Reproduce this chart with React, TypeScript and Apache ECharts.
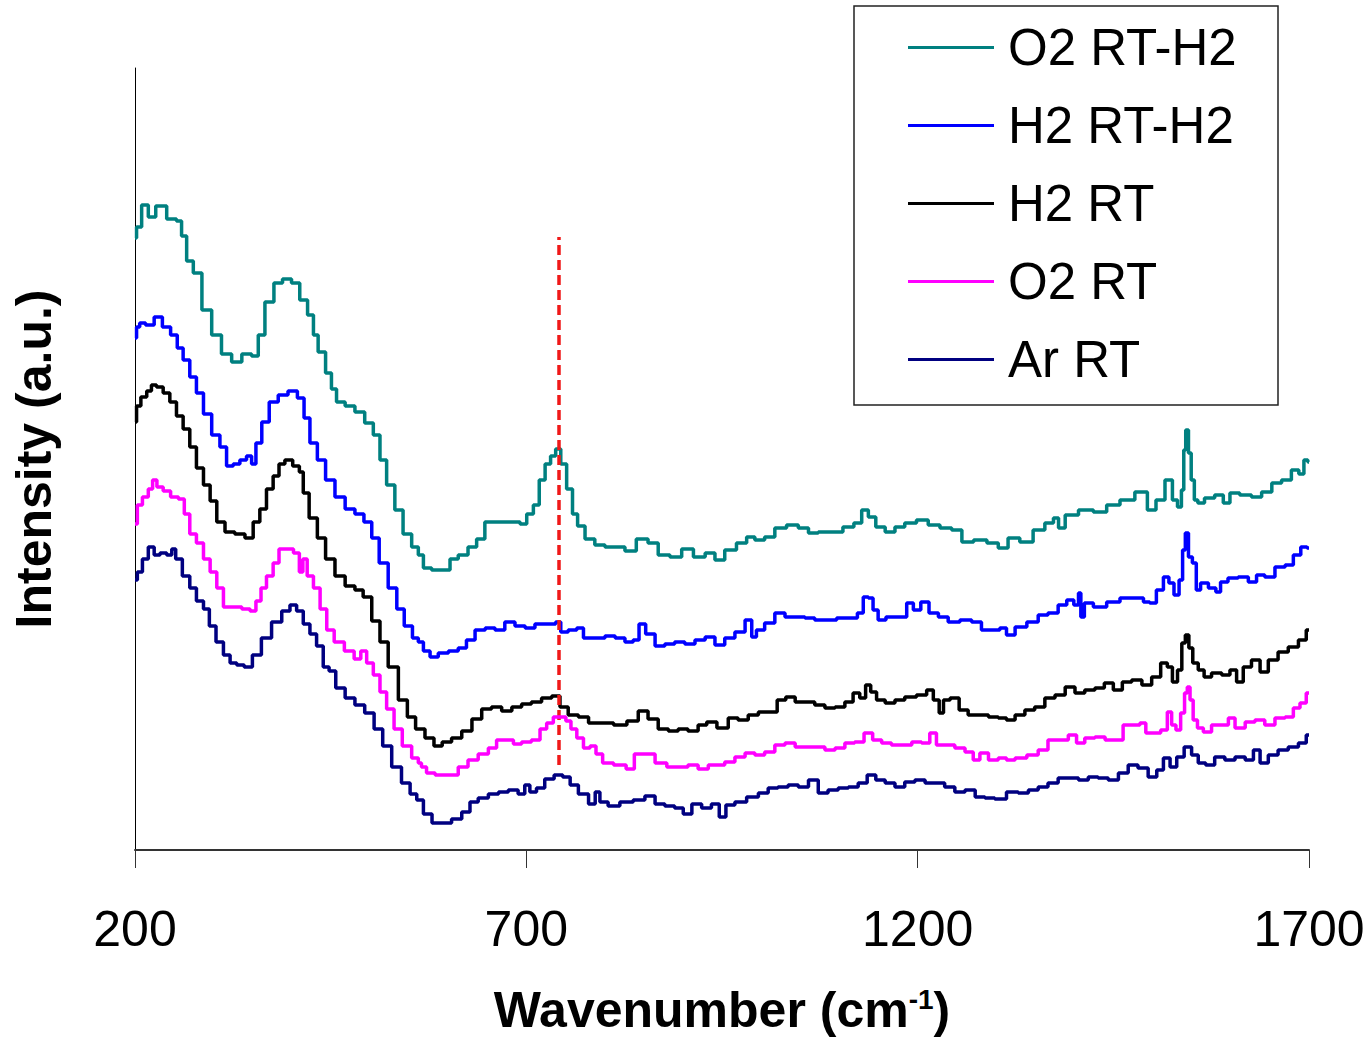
import React, { useEffect, useRef } from "react";
import * as echarts from "echarts";

const seriesNames = ["O2 RT-H2", "H2 RT-H2", "H2 RT", "O2 RT", "Ar RT"];
const seriesColors = ["#008080", "#0000FF", "#000000", "#FF00FF", "#000080"];
const xTicks = [200, 700, 1200, 1700];

// [wavenumber (cm-1), intensity (a.u.)]
const o2RtH2 = [[200,612],[204,623],[213,645],[221,633],[232,644],[249,631],[257,629],[262,614],[270,589],[279,577],[292,540],[304,515],[317,496],[330,488],[343,496],[355,494],[360,515],[372,548],[383,567],[394,571],[406,567],[415,550],[426,535],[430,515],[438,498],[449,477],[453,461],[462,448],[475,444],[487,438],[500,427],[509,415],[517,390],[526,365],[538,340],[547,316],[560,303],[564,295],[573,282],[585,280],[598,280],[607,291],[619,295],[632,303],[641,311],[653,328],[670,328],[688,328],[696,326],[705,336],[713,345],[720,370],[728,386],[734,394],[741,401],[747,386],[756,361],[762,336],[769,324],[781,311],[794,305],[807,303],[820,303],[832,299],[849,311],[862,307],[875,295],[892,293],[905,301],[922,293],[935,297],[947,290],[960,300],[977,307],[986,313],[998,310],[1011,313],[1024,322],[1041,325],[1054,322],[1067,317],[1079,318],[1096,318],[1113,323],[1124,327],[1133,340],[1141,333],[1152,323],[1165,318],[1177,323],[1190,327],[1207,330],[1220,325],[1237,322],[1250,320],[1263,308],[1280,310],[1297,307],[1309,302],[1322,312],[1339,308],[1356,320],[1369,327],[1378,332],[1382,322],[1395,335],[1416,340],[1433,338],[1450,345],[1467,350],[1488,358],[1499,340],[1510,350],[1522,370],[1529,350],[1535,343],[1539,360],[1541,400],[1544,420],[1548,397],[1551,370],[1556,350],[1560,347],[1573,352],[1586,355],[1595,347],[1603,357],[1620,355],[1633,353],[1646,358],[1659,367],[1671,370],[1684,380],[1690,376],[1697,390],[1700,388]];

const h2RtH2 = [[200,512],[204,523],[208,527],[219,525],[230,533],[240,523],[251,515],[257,502],[266,490],[274,473],[283,457],[292,436],[304,415],[313,403],[321,384],[330,386],[338,390],[347,394],[351,386],[358,407],[366,428],[377,448],[389,455],[402,459],[413,452],[419,432],[428,407],[438,390],[449,370],[462,353],[475,341],[487,336],[498,328],[507,312],[517,287],[530,262],[539,241],[549,224],[560,212],[564,208],[573,199],[581,193],[594,197],[607,199],[619,202],[628,210],[641,220],[654,222],[666,220],[679,228],[692,224],[705,222],[717,226],[734,226],[741,228],[747,218],[760,220],[769,222],[777,212],[794,212],[807,214],[820,212],[832,208],[841,210],[847,226],[858,216],[871,204],[883,206],[896,208],[909,206],[922,210],[935,213],[947,205],[960,212],[973,218],[986,230],[990,213],[998,220],[1011,227],[1024,237],[1037,233],[1050,233],[1062,232],[1075,230],[1088,230],[1105,232],[1118,232],[1128,237],[1133,253],[1141,252],[1145,240],[1154,230],[1165,233],[1182,233],[1190,247],[1199,240],[1209,248],[1220,237],[1233,233],[1245,228],[1263,230],[1275,228],[1288,220],[1301,220],[1309,222],[1318,215],[1331,223],[1348,228],[1360,235],[1373,237],[1386,245],[1395,250],[1404,245],[1407,257],[1410,233],[1416,247],[1433,243],[1450,248],[1467,252],[1484,252],[1493,248],[1500,247],[1510,260],[1518,273],[1524,267],[1531,255],[1537,270],[1540,300],[1544,317],[1548,293],[1554,287],[1558,260],[1565,267],[1578,262],[1584,258],[1590,268],[1603,272],[1616,273],[1629,268],[1637,275],[1650,273],[1663,283],[1676,285],[1684,295],[1695,303],[1700,302]];

const h2Rt = [[200,428],[204,444],[211,453],[219,459],[223,465],[232,463],[240,457],[249,448],[257,434],[266,421],[274,403],[283,382],[292,365],[300,349],[309,328],[321,318],[334,316],[347,312],[355,328],[364,341],[372,361],[381,374],[387,386],[396,390],[407,384],[413,378],[417,357],[428,332],[438,312],[449,291],[462,274],[475,264],[487,260],[496,253],[509,229],[517,208],[530,183],[543,150],[553,133],[564,121],[577,112],[587,104],[598,108],[611,112],[624,119],[637,131],[649,141],[662,143],[675,139],[688,143],[700,146],[713,148],[726,152],[739,154],[747,143],[760,135],[773,133],[786,127],[803,127],[820,125],[837,129],[849,139],[862,131],[875,121],[888,119],[900,121],[913,119],[926,125],[935,128],[952,122],[964,132],[977,130],[990,135],[1003,138],[1015,138],[1026,150],[1037,153],[1050,148],[1062,148],[1075,145],[1088,142],[1101,143],[1113,148],[1122,157],[1130,152],[1137,165],[1143,158],[1152,150],[1165,147],[1177,150],[1190,153],[1207,155],[1216,160],[1224,150],[1231,137],[1235,150],[1248,152],[1258,140],[1271,135],[1284,135],[1297,133],[1309,132],[1318,130],[1331,135],[1343,140],[1356,143],[1369,152],[1382,155],[1395,163],[1407,157],[1420,160],[1433,162],[1444,167],[1456,160],[1467,168],[1480,170],[1493,165],[1505,173],[1516,187],[1522,183],[1529,168],[1535,180],[1540,207],[1544,215],[1549,202],[1554,187],[1563,180],[1569,173],[1582,177],[1595,175],[1603,180],[1612,168],[1620,183],[1633,190],[1642,178],[1654,190],[1667,198],[1680,203],[1693,210],[1700,220]];

const o2Rt = [[200,326],[206,345],[213,353],[221,361],[224,370],[232,363],[240,359],[251,353],[260,351],[266,336],[274,316],[283,307],[292,291],[300,278],[309,262],[317,243],[330,243],[343,241],[351,239],[358,249],[364,262],[372,274],[381,287],[387,301],[398,301],[407,297],[413,278],[416,291],[424,274],[432,262],[441,241],[449,220],[460,208],[475,199],[485,191],[492,199],[500,187],[509,175],[517,158],[526,141],[536,121],[547,104],[560,92],[564,87],[568,83],[577,77],[590,75],[607,75],[619,83],[632,90],[645,96],[658,102],[666,110],[679,110],[688,106],[700,108],[713,110],[722,121],[730,127],[739,133],[747,133],[754,129],[760,121],[769,112],[777,102],[786,104],[792,96],[803,87],[820,85],[835,81],[841,96],[858,96],[871,87],[888,83],[900,83],[913,85],[926,81],[939,85],[947,85],[960,88],[973,93],[986,97],[998,95],[1011,98],[1024,105],[1037,107],[1050,103],[1062,103],[1075,103],[1088,100],[1101,102],[1113,107],[1126,108],[1137,117],[1148,110],[1160,107],[1173,105],[1186,105],[1199,108],[1211,107],[1220,117],[1228,105],[1241,105],[1254,102],[1267,98],[1275,90],[1284,97],[1297,90],[1309,92],[1318,90],[1331,92],[1348,95],[1360,100],[1373,110],[1386,110],[1399,115],[1407,107],[1420,112],[1433,113],[1446,110],[1458,110],[1467,125],[1480,125],[1488,127],[1495,117],[1505,117],[1516,120],[1522,138],[1527,125],[1533,120],[1539,137],[1543,157],[1546,163],[1550,150],[1554,130],[1561,122],[1569,118],[1582,125],[1595,125],[1599,132],[1612,122],[1625,128],[1637,130],[1650,125],[1663,132],[1676,133],[1684,142],[1693,147],[1700,157]];

const arRt = [[200,270],[206,278],[213,291],[221,303],[228,295],[236,297],[245,295],[249,301],[255,291],[266,274],[274,262],[283,249],[292,241],[298,224],[309,208],[317,195],[326,187],[334,185],[345,183],[355,195],[368,212],[381,228],[394,239],[402,245],[411,239],[419,226],[428,216],[436,204],[445,183],[451,179],[462,162],[475,152],[487,145],[500,137],[511,121],[522,104],[534,83],[547,67],[556,56],[564,50],[573,36],[586,27],[598,27],[611,31],[624,38],[632,48],[645,52],[658,56],[671,58],[683,60],[696,56],[700,65],[709,58],[717,62],[730,71],[741,75],[752,73],[760,65],[773,56],[786,46],[790,58],[798,48],[811,44],[828,48],[845,50],[858,54],[871,46],[883,44],[896,42],[905,36],[918,46],[930,42],[943,46],[950,33],[960,45],[973,48],[990,53],[1003,57],[1015,62],[1028,63],[1041,65],[1054,63],[1067,70],[1079,57],[1092,60],[1105,62],[1118,63],[1130,67],[1141,75],[1152,70],[1165,67],[1177,63],[1190,68],[1203,70],[1216,67],[1228,67],[1241,63],[1254,58],[1267,60],[1280,53],[1292,52],[1305,51],[1322,58],[1335,57],[1348,60],[1360,63],[1373,67],[1386,72],[1399,72],[1412,70],[1424,73],[1437,72],[1450,70],[1463,77],[1475,85],[1488,82],[1501,73],[1510,80],[1518,92],[1527,83],[1535,93],[1546,103],[1554,95],[1563,87],[1573,85],[1586,93],[1599,90],[1612,93],[1625,90],[1633,100],[1642,87],[1654,95],[1667,100],[1680,103],[1693,107],[1700,115]];

const markerWavenumber = 742;
const markerIntensityRange = [85, 613];

const FONT = "'Liberation Sans', Arial, Helvetica, sans-serif";

export default function App() {
  const ref = useRef<HTMLDivElement>(null);

  useEffect(() => {
    if (!ref.current) return;
    const chart = echarts.init(ref.current, null, { renderer: "svg" });
    const allData = [o2RtH2, h2RtH2, h2Rt, o2Rt, arRt];

    const series: any[] = seriesNames.map((name, i) => ({
      name,
      type: "line",
      data: allData[i],
      color: seriesColors[i],
      showSymbol: false,
      symbol: "none",
      smooth: false,
      step: "middle",
      lineStyle: { color: seriesColors[i], width: 3.5 },
      emphasis: { disabled: true },
      z: 2 + i,
    }));

    series[series.length - 1].markLine = {
      silent: true,
      symbol: ["none", "none"],
      label: { show: false },
      emphasis: { disabled: true },
      lineStyle: { color: "#F01818", width: 3.5, type: [10, 5] },
      data: [
        [
          { coord: [markerWavenumber, markerIntensityRange[0]] },
          { coord: [markerWavenumber, markerIntensityRange[1]] },
        ],
      ],
    };

    chart.setOption({
      animation: false,
      backgroundColor: "#FFFFFF",
      textStyle: { fontFamily: FONT },
      grid: {
        left: 135,
        right: 59,
        top: 68,
        bottom: 188,
        containLabel: false,
        outerBoundsMode: "none",
      },
      legend: {
        show: true,
        orient: "vertical",
        left: 908,
        top: 22,
        padding: 0,
        itemGap: 27,
        itemWidth: 86,
        itemHeight: 3,
        icon: "rect",
        selectedMode: false,
        data: seriesNames,
        textStyle: {
          fontSize: 51,
          lineHeight: 48,
          color: "#000",
          fontFamily: FONT,
          padding: [0, 0, 0, 9],
        },
      },
      graphic: [
        {
          type: "rect",
          shape: { x: 854, y: 6, width: 424, height: 399 },
          style: { fill: "#FFFFFF", stroke: "#222", lineWidth: 1.5 },
          z: 1,
          silent: true,
        },
      ],
      xAxis: {
        type: "value",
        min: 200,
        max: 1700,
        axisLine: { show: true, onZero: false, lineStyle: { color: "#333", width: 2 } },
        axisTick: {
          show: true,
          length: 18,
          customValues: xTicks,
          lineStyle: { color: "#333", width: 1 },
        },
        axisLabel: {
          customValues: xTicks,
          fontSize: 50,
          color: "#000",
          margin: 54,
          fontFamily: FONT,
          formatter: (v: number) => String(v),
        },
        splitLine: { show: false },
        name: "{main|Wavenumber (cm}{sup|-1}{main|)}",
        nameLocation: "middle",
        nameGap: 135,
        nameTextStyle: {
          color: "#000000",
          rich: {
            main: { fontSize: 50, fontWeight: "bold", color: "#000000", fontFamily: FONT },
            sup: { fontSize: 28, fontWeight: "bold", color: "#000000", fontFamily: FONT, verticalAlign: "top" },
          },
        },
      },
      yAxis: {
        type: "value",
        min: 0,
        max: 782,
        axisLine: { show: true, lineStyle: { color: "#000", width: 1 } },
        axisTick: { show: false },
        axisLabel: { show: false },
        splitLine: { show: false },
        name: "Intensity (a.u.)",
        nameLocation: "middle",
        nameGap: 76,
        nameTextStyle: { fontSize: 50, fontWeight: "bold", color: "#000", fontFamily: FONT },
      },
      series,
    });

    return () => chart.dispose();
  }, []);

  return (
    <div
      ref={ref}
      style={{ position: "absolute", left: 0, top: 0, width: 1368, height: 1038, background: "#fff" }}
    />
  );
}
